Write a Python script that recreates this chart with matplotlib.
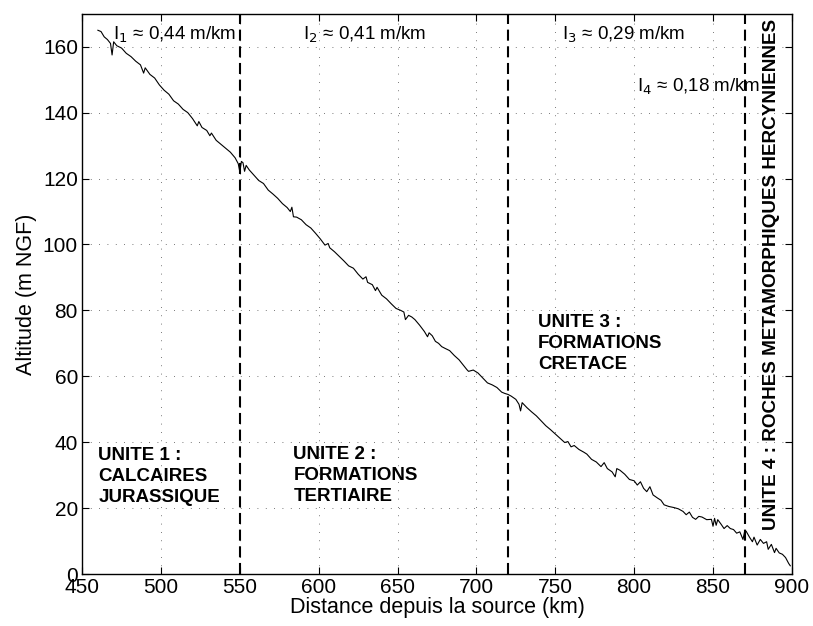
import matplotlib
matplotlib.use("Agg")
import matplotlib.pyplot as plt

plt.rcParams['font.family'] = ['Liberation Sans', 'DejaVu Sans']

# profil en long (distance km, altitude m NGF)
distance = [460, 462, 464, 466, 468, 469, 470, 472, 475, 478,
            481, 484, 487, 489, 490, 493, 496, 499, 502, 505,
            508, 511, 514, 517, 520, 523, 524, 526, 529, 531,
            532, 535, 538, 541, 544, 547, 549, 550, 551, 552,
            553, 554, 556, 559, 562, 565, 568, 571, 574, 577,
            580, 582, 583, 584, 586, 589, 592, 595, 598, 601,
            604, 606, 607, 610, 613, 616, 619, 622, 625, 628,
            630, 631, 634, 636, 637, 640, 643, 646, 649, 652,
            654, 655, 657, 659, 661, 664, 667, 669, 670, 672,
            674, 676, 678, 680, 683, 686, 689, 692, 694, 695,
            698, 701, 704, 707, 710, 713, 716, 718, 720, 722,
            725, 727, 728, 729, 732, 735, 738, 741, 744, 747,
            750, 753, 756, 758, 760, 762, 765, 768, 770, 773,
            776, 779, 781, 783, 786, 788, 789, 791, 794, 797,
            800, 802, 804, 806, 808, 810, 812, 815, 817, 819,
            822, 825, 828, 831, 833, 835, 837, 839, 841, 843,
            846, 849, 850, 851, 852, 853, 855, 857, 859, 861,
            863, 865, 867, 869, 870, 871, 873, 875, 876, 878,
            880, 882, 884, 885, 887, 889, 890, 892, 894, 896,
            898, 899]
altitude = [165.0, 164.6, 163.0, 162.2, 161.0, 157.5, 161.5, 160.3, 159.6, 158.0,
            157.0, 155.6, 154.5, 152.0, 153.6, 151.6, 150.5, 148.4, 146.8, 145.6,
            143.6, 142.6, 141.0, 140.0, 138.2, 136.0, 137.3, 135.5, 134.6, 133.0,
            133.8, 131.6, 130.4, 129.2, 128.0, 126.3, 124.5, 122.0, 125.2, 124.8,
            122.2, 124.0, 122.6, 121.0, 119.4, 118.5, 116.5, 115.3, 114.0, 112.4,
            111.2, 110.0, 111.3, 108.4, 108.3, 107.5, 106.0, 105.0, 103.4, 101.7,
            99.8, 100.3, 99.0, 97.8, 96.4, 95.0, 93.5, 92.8, 91.0, 89.5,
            90.2, 88.5, 87.8, 86.0, 87.0, 84.6, 83.5, 82.0, 80.6, 80.0,
            79.5, 77.2, 78.5, 78.0, 77.2, 75.5, 73.6, 72.0, 73.2, 72.3,
            70.6, 70.0, 69.0, 68.5, 67.8, 66.3, 65.0, 63.2, 62.0, 61.5,
            61.9, 61.0, 59.5, 58.0, 57.4, 56.6, 55.2, 54.8, 54.5, 54.0,
            53.0, 51.5, 49.5, 52.0, 50.5, 49.2, 48.0, 46.5, 45.0, 43.8,
            42.5, 41.2, 39.9, 40.2, 38.6, 39.0, 37.8, 37.0, 36.4, 34.8,
            34.0, 32.6, 33.8, 32.0, 31.0, 29.5, 32.0, 31.5, 30.3, 28.7,
            28.3, 27.0, 28.0, 26.0, 25.0, 26.5, 24.0, 23.0, 22.4, 21.0,
            20.5, 20.2, 19.8, 19.0, 18.0, 18.8, 17.2, 16.6, 17.5, 17.3,
            16.5, 16.6, 14.5, 16.9, 14.8, 16.5, 15.2, 13.8, 14.7, 13.8,
            13.5, 12.4, 12.8, 10.5, 12.8, 13.0, 11.3, 9.8, 11.2, 8.8,
            10.5, 9.3, 9.8, 7.5, 9.0, 6.5, 7.8, 6.4, 6.0, 5.0,
            3.2, 2.5]

limites = [550, 720, 870]
pentes = ["I$_1$ \u2248 0,44 m/km", "I$_2$ \u2248 0,41 m/km",
          "I$_3$ \u2248 0,29 m/km", "I$_4$ \u2248 0,18 m/km"]
unites = ["UNITE 1 :\nCALCAIRES\nJURASSIQUE",
          "UNITE 2 :\nFORMATIONS\nTERTIAIRE",
          "UNITE 3 :\nFORMATIONS\nCRETACE",
          "UNITE 4 : ROCHES METAMORPHIQUES HERCYNIENNES"]

fig = plt.figure(figsize=(8.13, 6.26), dpi=100)
ax = fig.add_axes([0.101, 0.083, 0.873, 0.895])

ax.plot(distance, altitude, color='black', linewidth=0.8)
for xl in limites:
    ax.axvline(xl, color='black', linestyle=(0, (5.3, 2.7)), linewidth=1.5)

ax.set_xlim(450, 900)
ax.set_ylim(0, 170)
ax.set_xticks(range(450, 901, 50))
ax.set_yticks(range(0, 161, 20))
ax.grid(True, color='black', linestyle=(0, (1, 9)), linewidth=0.6, alpha=0.7)
ax.tick_params(direction='in', top=True, right=True, labelsize=15, length=5, pad=3)
for s in ax.spines.values():
    s.set_linewidth(1.0)

ax.set_xlabel("Distance depuis la source (km)", fontsize=15.5, labelpad=0)
ax.set_ylabel("Altitude (m NGF)", fontsize=15.5, labelpad=4)

# pentes moyennes
ax.text(469.5, 162, pentes[0], fontsize=13.5)
ax.text(590, 162, pentes[1], fontsize=13.5)
ax.text(754, 162, pentes[2], fontsize=13.5)
ax.text(801.5, 146.5, pentes[3], fontsize=13.5)

# unites geologiques
ax.text(460.3, 29.5, unites[0], fontsize=13.5, fontweight='bold', va='center',
        linespacing=1.3)
ax.text(584, 30, unites[1], fontsize=13.5, fontweight='bold', va='center',
        linespacing=1.3)
ax.text(739, 70, unites[2], fontsize=13.5, fontweight='bold', va='center',
        linespacing=1.3)
ax.text(887, 13.5, unites[3], fontsize=13.6, fontweight='bold', rotation=90,
        ha='center', va='bottom')

fig.savefig("out.png", dpi=100)
